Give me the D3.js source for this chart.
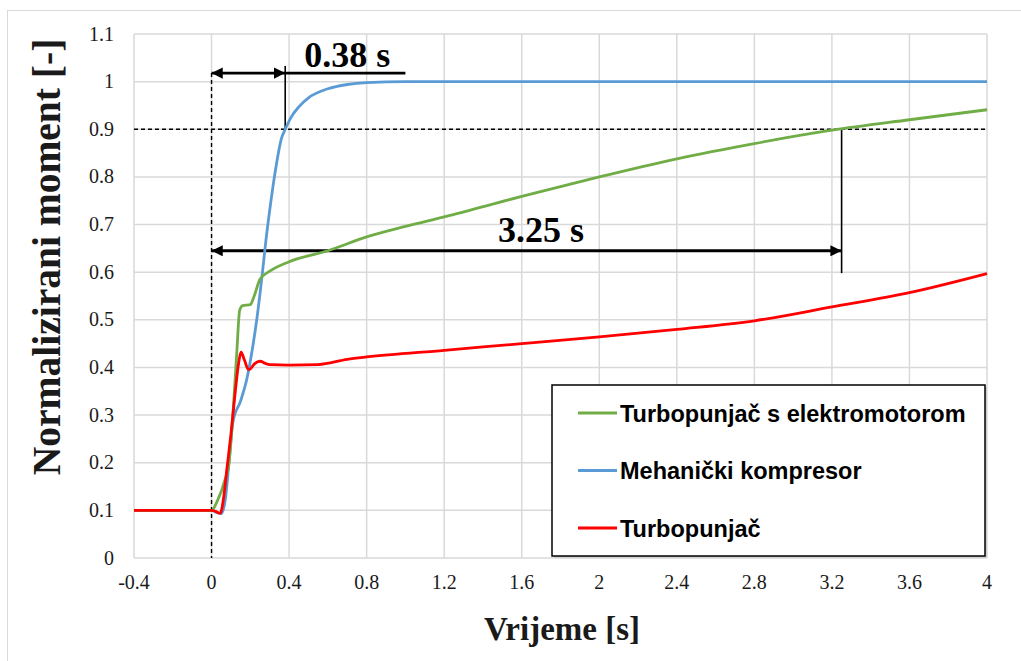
<!DOCTYPE html>
<html>
<head>
<meta charset="utf-8">
<script src="https://cdn.jsdelivr.net/npm/d3@7"></script>
<style>
  body { margin: 0; background: #fff; }
  svg { display: block; }
</style>
</head>
<body>
<svg id="chart" width="1021" height="661"></svg>
<script>
// series data
var seriesNames = ["Turbopunjač s elektromotorom", "Mehanički kompresor", "Turbopunjač"];
var seriesColors = ["#70ad47", "#5b9bd5", "#ff0000"];

var tGreen = [-0.4, 0, 0.03, 0.07, 0.09, 0.11, 0.13, 0.145, 0.16, 0.2, 0.22, 0.25, 0.3, 0.4, 0.6, 0.8, 1.0, 1.2, 1.6, 2.0, 2.4, 2.8, 3.2, 3.6, 4.0];
var vGreen = [0.1, 0.1, 0.12, 0.165, 0.2, 0.3, 0.43, 0.52, 0.53, 0.532, 0.55, 0.585, 0.602, 0.622, 0.645, 0.674, 0.696, 0.716, 0.759, 0.80, 0.838, 0.87, 0.898, 0.92, 0.941];

var tBlue = [-0.4, 0, 0.03, 0.05, 0.07, 0.09, 0.11, 0.15, 0.18, 0.21, 0.235, 0.26, 0.28, 0.3, 0.33, 0.36, 0.38, 0.41, 0.45, 0.5, 0.6, 0.7, 0.8, 1.0, 4.0];
var vBlue = [0.1, 0.1, 0.095, 0.093, 0.12, 0.2, 0.285, 0.33, 0.372, 0.437, 0.506, 0.59, 0.665, 0.73, 0.815, 0.88, 0.9, 0.925, 0.947, 0.966, 0.985, 0.994, 0.998, 1.0, 1.0];

var tRed = [-0.4, 0, 0.02, 0.045, 0.06, 0.08, 0.1, 0.12, 0.14, 0.152, 0.17, 0.19, 0.2, 0.22, 0.25, 0.28, 0.3, 0.4, 0.55, 0.7, 0.8, 1.2, 1.6, 2.0, 2.4, 2.8, 3.2, 3.6, 4.0];
var vRed = [0.1, 0.1, 0.098, 0.094, 0.12, 0.19, 0.26, 0.34, 0.41, 0.432, 0.415, 0.396, 0.397, 0.407, 0.413, 0.408, 0.406, 0.405, 0.406, 0.417, 0.422, 0.436, 0.45, 0.464, 0.48, 0.498, 0.527, 0.557, 0.597];

var xTicks = [-0.4, 0, 0.4, 0.8, 1.2, 1.6, 2, 2.4, 2.8, 3.2, 3.6, 4];
var yTicks = [0, 0.1, 0.2, 0.3, 0.4, 0.5, 0.6, 0.7, 0.8, 0.9, 1, 1.1];

var svg = d3.select("#chart");

// outer chart frame
svg.append("rect")
    .attr("x", 7.5).attr("y", 10.5)
    .attr("width", 1030).attr("height", 660)
    .attr("fill", "none")
    .attr("stroke", "#d9d9d9")
    .attr("stroke-width", 1);

var x = d3.scaleLinear().domain([-0.4, 4]).range([134, 987]);
var y = d3.scaleLinear().domain([0, 1.1]).range([558, 34]);

// gridlines
var grid = svg.append("g");
grid.selectAll("line.v").data(xTicks).enter().append("line")
    .attr("class", "v")
    .attr("x1", function(d) { return x(d); }).attr("x2", function(d) { return x(d); })
    .attr("y1", y(0)).attr("y2", y(1.1))
    .attr("stroke", "#d9d9d9").attr("stroke-width", 1.5);
grid.selectAll("line.h").data(yTicks).enter().append("line")
    .attr("class", "h")
    .attr("y1", function(d) { return y(d); }).attr("y2", function(d) { return y(d); })
    .attr("x1", x(-0.4)).attr("x2", x(4))
    .attr("stroke", "#d9d9d9").attr("stroke-width", 1.5);

// tick labels
var fmt = function(d) { return String(+d.toFixed(1)); };
svg.selectAll("text.xt").data(xTicks).enter().append("text")
    .attr("class", "xt")
    .attr("x", function(d) { return x(d); })
    .attr("y", 589)
    .attr("text-anchor", "middle")
    .attr("font-family", "Liberation Serif, Times New Roman, serif")
    .attr("font-size", "20px")
    .attr("fill", "#1a1a1a")
    .text(fmt);
svg.selectAll("text.yt").data(yTicks).enter().append("text")
    .attr("class", "yt")
    .attr("x", 114)
    .attr("y", function(d) { return y(d) + 6.5; })
    .attr("text-anchor", "end")
    .attr("font-family", "Liberation Serif, Times New Roman, serif")
    .attr("font-size", "20px")
    .attr("fill", "#1a1a1a")
    .text(fmt);

// axis titles
svg.append("text")
    .attr("x", 562).attr("y", 640)
    .attr("text-anchor", "middle")
    .attr("font-family", "Liberation Serif, Times New Roman, serif")
    .attr("font-weight", "bold")
    .attr("font-size", "33px")
    .attr("fill", "#1a1a1a")
    .text("Vrijeme [s]");
svg.append("text")
    .attr("transform", "translate(60,257)rotate(-90)")
    .attr("text-anchor", "middle")
    .attr("font-family", "Liberation Serif, Times New Roman, serif")
    .attr("font-weight", "bold")
    .attr("font-size", "39.5px")
    .attr("fill", "#1a1a1a")
    .text("Normalizirani moment [-]");

// reference lines
var ann = svg.append("g");
ann.append("line")
    .attr("x1", x(-0.4)).attr("x2", x(4))
    .attr("y1", y(0.9)).attr("y2", y(0.9))
    .attr("stroke", "#000").attr("stroke-width", 1.4)
    .attr("stroke-dasharray", "4,3");
ann.append("line")
    .attr("x1", x(0)).attr("x2", x(0))
    .attr("y1", y(1.018)).attr("y2", y(0))
    .attr("stroke", "#000").attr("stroke-width", 1.4)
    .attr("stroke-dasharray", "4,3");

// series
var lineGen = d3.line()
    .x(function(d) { return x(d[0]); })
    .y(function(d) { return y(d[1]); })
    .curve(d3.curveMonotoneX);

var seriesData = [
    d3.zip(tGreen, vGreen),
    d3.zip(tBlue, vBlue),
    d3.zip(tRed, vRed)
];
var drawOrder = [1, 0, 2];
drawOrder.forEach(function(i) {
    svg.append("path")
        .attr("d", lineGen(seriesData[i]))
        .attr("fill", "none")
        .attr("stroke", seriesColors[i])
        .attr("stroke-width", 2.8)
        .attr("stroke-linejoin", "round");
});

// arrow annotations
var defs = svg.append("defs");
defs.append("marker")
    .attr("id", "arrowEnd")
    .attr("viewBox", "0 0 10 10")
    .attr("refX", 10).attr("refY", 5)
    .attr("markerWidth", 4.4).attr("markerHeight", 4)
    .attr("markerUnits", "strokeWidth")
    .attr("orient", "auto-start-reverse")
    .append("path")
    .attr("d", "M0,0L10,5L0,10Z")
    .attr("fill", "#000");

function arrow(t0, t1, v) {
    ann.append("line")
        .attr("x1", x(t0)).attr("x2", x(t1))
        .attr("y1", y(v)).attr("y2", y(v))
        .attr("stroke", "#000").attr("stroke-width", 2.8)
        .attr("marker-start", "url(#arrowEnd)")
        .attr("marker-end", "url(#arrowEnd)");
}

arrow(0, 0.38, 1.018);
ann.append("line")
    .attr("x1", x(0.38)).attr("x2", x(1.0))
    .attr("y1", y(1.018)).attr("y2", y(1.018))
    .attr("stroke", "#000").attr("stroke-width", 2.8);
ann.append("line")
    .attr("x1", x(0.38)).attr("x2", x(0.38))
    .attr("y1", y(1.033)).attr("y2", y(0.9))
    .attr("stroke", "#000").attr("stroke-width", 1.6);

arrow(0, 3.25, 0.645);
ann.append("line")
    .attr("x1", x(3.25)).attr("x2", x(3.25))
    .attr("y1", y(0.9)).attr("y2", y(0.598))
    .attr("stroke", "#000").attr("stroke-width", 1.6);

ann.append("text")
    .attr("x", x(0.7)).attr("y", y(1.03))
    .attr("text-anchor", "middle")
    .attr("font-family", "Liberation Serif, Times New Roman, serif")
    .attr("font-weight", "bold")
    .attr("font-size", "36px")
    .attr("fill", "#000")
    .text("0.38 s");
ann.append("text")
    .attr("x", x(1.7)).attr("y", y(0.663))
    .attr("text-anchor", "middle")
    .attr("font-family", "Liberation Serif, Times New Roman, serif")
    .attr("font-weight", "bold")
    .attr("font-size", "36px")
    .attr("fill", "#000")
    .text("3.25 s");

// legend
var legend = svg.append("g").attr("transform", "translate(552,385)");
legend.append("rect")
    .attr("x", 2).attr("y", 2)
    .attr("width", 433).attr("height", 171)
    .attr("fill", "#cfcfcf");
legend.append("rect")
    .attr("width", 433).attr("height", 171)
    .attr("fill", "#fff")
    .attr("stroke", "#000")
    .attr("stroke-width", 1.5);

var rows = legend.selectAll("g.row").data(seriesNames).enter().append("g")
    .attr("class", "row")
    .attr("transform", function(d, i) { return "translate(0," + (28 + i * 57.5) + ")"; });
rows.append("line")
    .attr("x1", 26).attr("x2", 65)
    .attr("y1", 0).attr("y2", 0)
    .attr("stroke", function(d, i) { return seriesColors[i]; })
    .attr("stroke-width", 2.8);
rows.append("text")
    .attr("x", 68).attr("y", 8.5)
    .attr("font-family", "Liberation Sans, Arial, sans-serif")
    .attr("font-weight", "bold")
    .attr("font-size", "23.5px")
    .attr("fill", "#000")
    .text(function(d) { return d; });
</script>
</body>
</html>
